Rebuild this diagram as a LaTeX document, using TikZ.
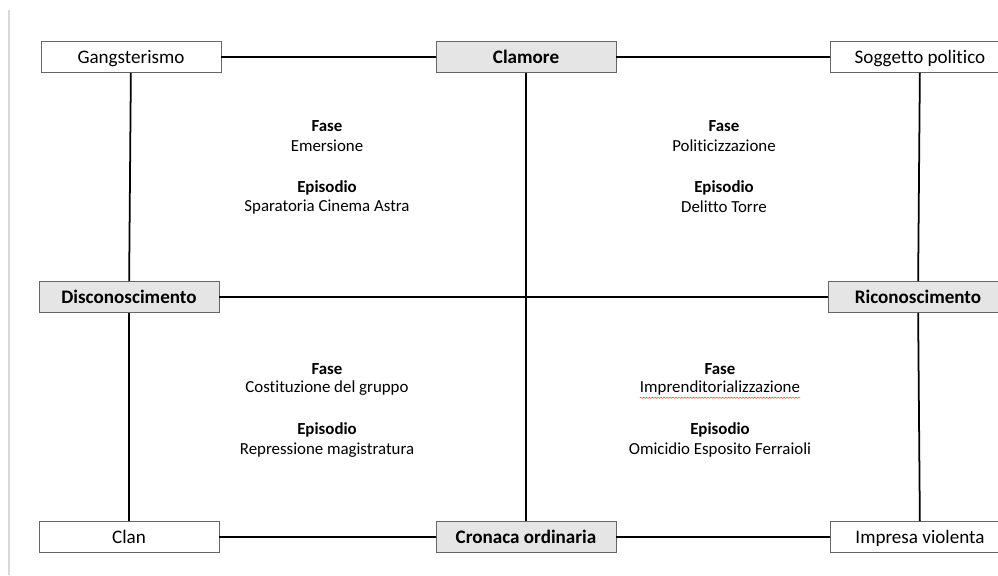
\documentclass[tikz,border=0pt]{standalone}
\usepackage{fontspec}
\setmainfont{Carlito}[Ligatures={CommonOff}]
\usetikzlibrary{positioning, decorations.pathmorphing}

\begin{document}
\begin{tikzpicture}[x=0.03cm, y=-0.03cm]

  % Define styles
  \tikzstyle{pole} = [rectangle, draw=black!60, line width=0.8pt, fill=white, minimum width=5.4cm, minimum height=0.93cm, inner sep=0pt, text height=13pt, text depth=2.5pt, font=\fontsize{16.3}{19}\selectfont]
  \tikzstyle{axis} = [pole, fill=black!10, font=\fontsize{16.3}{19}\selectfont\bfseries]
  \tikzstyle{link} = [draw, line width=1.5pt]
  \tikzstyle{txt} = [inner sep=0pt, font=\fontsize{14.4}{17}\selectfont]
  \tikzstyle{head} = [txt, font=\fontsize{14.4}{17}\selectfont\bfseries]

  \useasboundingbox (0,0) rectangle (998,575);
  \clip (0,0) rectangle (998,575);

  % Page margin
  \draw[black!15, line width=1.5pt] (9,10) -- (9,575);

  % Boxes
  \node[pole] (gang) at (131, 57) {Gangsterismo};
  \node[axis] (clamore) at (526, 57) {Clamore};
  \node[pole] (sogg) at (920, 57) {Soggetto politico};

  \node[axis] (disc) at (129, 297) {Disconoscimento};
  \node[axis] (ric) at (918, 297) {Riconoscimento};

  \node[pole] (clan) at (129, 537) {Clan};
  \node[axis] (cronaca) at (526, 537) {Cronaca ordinaria};
  \node[pole] (impresa) at (920, 537) {Impresa violenta};

  % Connections
  \draw[link] (gang) -- (clamore);
  \draw[link] (clamore) -- (sogg);
  \draw[link] (disc) -- (ric);
  \draw[link] (clan) -- (cronaca);
  \draw[link] (cronaca) -- (impresa);

  \draw[link] (gang) -- (disc);
  \draw[link] (disc) -- (clan);
  \draw[link] (clamore) -- (cronaca);
  \draw[link] (sogg) -- (ric);
  \draw[link] (ric) -- (impresa);

  % Emersione
  \node[head] (f1) at (327, 126) {Fase};
  \node[txt] (p1) at (327, 146) {Emersione};
  \node[head] (e1) at (327, 188) {Episodio};
  \node[txt] (s1) at (327, 207) {Sparatoria Cinema Astra};

  % Politicizzazione
  \node[head] (f2) at (724, 126) {Fase};
  \node[txt] (p2) at (724, 146) {Politicizzazione};
  \node[head] (e2) at (724, 188) {Episodio};
  \node[txt] (s2) at (724, 207) {Delitto Torre};

  % Costituzione del gruppo
  \node[head] (f3) at (327, 369) {Fase};
  \node[txt] (p3) at (327, 388) {Costituzione del gruppo};
  \node[head] (e3) at (327, 430) {Episodio};
  \node[txt] (s3) at (327, 450) {Repressione magistratura};

  % Imprenditorializzazione
  \node[head] (f4) at (720, 369) {Fase};
  \node[txt] (p4) at (720, 388) {Imprenditorializzazione};
  \node[head] (e4) at (720, 430) {Episodio};
  \node[txt] (s4) at (720, 450) {Omicidio Esposito Ferraioli};

  % Spell check mark
  \draw[red!80, line width=0.4pt, decorate, decoration={snake, amplitude=0.5pt, segment length=2.5pt}]
    ([yshift=-2pt]p4.south west) -- ([yshift=-2pt]p4.south east);

\end{tikzpicture}
\end{document}
